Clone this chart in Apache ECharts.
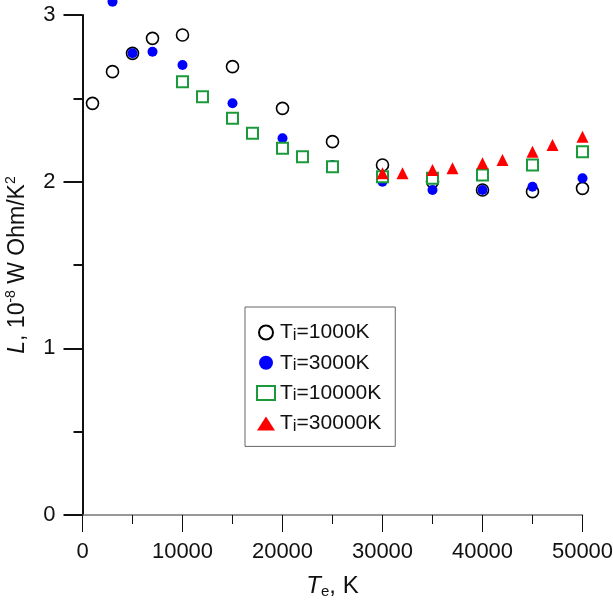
<!DOCTYPE html>
<html>
<head>
<meta charset="utf-8">
<script src="https://cdn.jsdelivr.net/npm/echarts@6/dist/echarts.min.js"></script>
<style>
  html, body { margin: 0; padding: 0; background: #fff; }
  #mainChart { width: 613px; height: 601px; }
</style>
</head>
<body>
<div id="mainChart"></div>
<script>
// data
var xTicks = [0, 10000, 20000, 30000, 40000, 50000];
var yTicks = [0, 1, 2, 3];

var te1000 = [1000, 3000, 5000, 7000, 10000, 15000, 20000, 25000, 30000, 35000, 40000, 45000, 50000];
var L1000 = [2.47, 2.66, 2.77, 2.86, 2.88, 2.69, 2.44, 2.24, 2.10, 2.00, 1.95, 1.94, 1.96];

var te3000 = [3000, 5000, 7000, 10000, 15000, 20000, 25000, 30000, 35000, 40000, 45000, 50000];
var L3000 = [3.08, 2.77, 2.78, 2.70, 2.47, 2.26, 2.10, 2.00, 1.95, 1.95, 1.97, 2.02];

var te10000 = [10000, 12000, 15000, 17000, 20000, 22000, 25000, 30000, 35000, 40000, 45000, 50000];
var L10000 = [2.60, 2.51, 2.38, 2.29, 2.20, 2.15, 2.09, 2.03, 2.02, 2.04, 2.10, 2.18];

var te30000 = [30000, 32000, 35000, 37000, 40000, 42000, 45000, 47000, 50000];
var L30000 = [2.05, 2.05, 2.07, 2.08, 2.11, 2.13, 2.18, 2.22, 2.27];

var seriesNames = ["Ti=1000K", "Ti=3000K", "Ti=10000K", "Ti=30000K"];

function pairs(xs, ys) {
    var out = [];
    for (var i = 0; i < xs.length; i++) {
        out.push([xs[i], ys[i]]);
    }
    return out;
}

var fontFam = "Liberation Sans, Arial, sans-serif";
var ink = "#111";

var chart = echarts.init(document.getElementById("mainChart"));

chart.setOption({
    animation: false,
    backgroundColor: "#fff",
    grid: { left: 82.5, right: 30.5, top: 15, bottom: 86, containLabel: false, outerBoundsMode: "none" },
    legend: {
        orient: "vertical",
        left: 245,
        top: 307,
        padding: [15, 14, 12, 11],
        itemGap: 8.8,
        itemWidth: 18,
        itemHeight: 14,
        borderColor: "#666",
        borderWidth: 1,
        data: seriesNames,
        formatter: function (name) {
            return "{t|T}{s|i}{t|" + name.slice(2) + "}";
        },
        textStyle: {
            fontFamily: fontFam,
            color: ink,
            rich: {
                t: { fontSize: 21, fontFamily: fontFam, color: ink, lineHeight: 22 },
                s: { fontSize: 17, fontFamily: fontFam, color: ink, verticalAlign: "bottom", lineHeight: 17 }
            }
        }
    },
    xAxis: {
        type: "value",
        min: xTicks[0],
        max: xTicks[xTicks.length - 1],
        interval: 10000,
        name: "{i|T}{s|e}{n|, K}",
        nameLocation: "middle",
        nameGap: 58,
        nameTextStyle: {
            rich: {
                i: { fontSize: 24, fontStyle: "italic", fontFamily: fontFam, color: ink, lineHeight: 26 },
                n: { fontSize: 24, fontFamily: fontFam, color: ink, lineHeight: 26 },
                s: { fontSize: 15, fontFamily: fontFam, color: ink, verticalAlign: "bottom", lineHeight: 10 }
            }
        },
        axisLine: { lineStyle: { color: "#777", width: 1.5 } },
        axisTick: { inside: false, length: 17, lineStyle: { color: ink, width: 1 } },
        minorTick: { show: true, splitNumber: 2, length: 9, lineStyle: { color: ink, width: 1 } },
        splitLine: { show: false },
        axisLabel: {
            margin: 26, fontSize: 22, fontFamily: fontFam, color: ink,
            formatter: function (v) { return String(v); }
        }
    },
    yAxis: {
        type: "value",
        min: yTicks[0],
        max: yTicks[yTicks.length - 1],
        interval: 1,
        name: "{i|L}{n|, 10}{p|-8}{n| W Ohm/K}{p|2}",
        nameLocation: "middle",
        nameGap: 52,
        nameRotate: 90,
        nameTextStyle: {
            rich: {
                i: { fontSize: 23, fontStyle: "italic", fontFamily: fontFam, color: ink, lineHeight: 26 },
                n: { fontSize: 23, fontFamily: fontFam, color: ink, lineHeight: 26 },
                p: { fontSize: 14, fontFamily: fontFam, color: ink, verticalAlign: "top", lineHeight: 10 }
            }
        },
        axisLine: { lineStyle: { color: ink, width: 2 } },
        axisTick: { inside: false, length: 19, lineStyle: { color: ink, width: 2 } },
        minorTick: { show: true, splitNumber: 2, length: 9, lineStyle: { color: ink, width: 2 } },
        splitLine: { show: false },
        axisLabel: {
            margin: 27, fontSize: 22, fontFamily: fontFam, color: ink,
            formatter: function (v) { return String(v); }
        }
    },
    series: [
        {
            name: seriesNames[0],
            type: "scatter",
            clip: false,
            symbol: "circle",
            symbolSize: 12,
            itemStyle: { color: "#fff", borderColor: "#000", borderWidth: 1.6, opacity: 1 },
            data: pairs(te1000, L1000)
        },
        {
            name: seriesNames[1],
            type: "scatter",
            clip: false,
            symbol: "circle",
            symbolSize: 10,
            itemStyle: { color: "#0000ff", opacity: 1 },
            data: pairs(te3000, L3000)
        },
        {
            name: seriesNames[2],
            type: "scatter",
            clip: false,
            symbol: "rect",
            symbolSize: 11,
            itemStyle: { color: "#fff", borderColor: "#1a9a3a", borderWidth: 2, opacity: 1 },
            data: pairs(te10000, L10000)
        },
        {
            name: seriesNames[3],
            type: "scatter",
            clip: false,
            symbol: "triangle",
            symbolSize: 12,
            itemStyle: { color: "#ff0000", opacity: 1 },
            data: pairs(te30000, L30000)
        }
    ]
});
</script>
</body>
</html>
